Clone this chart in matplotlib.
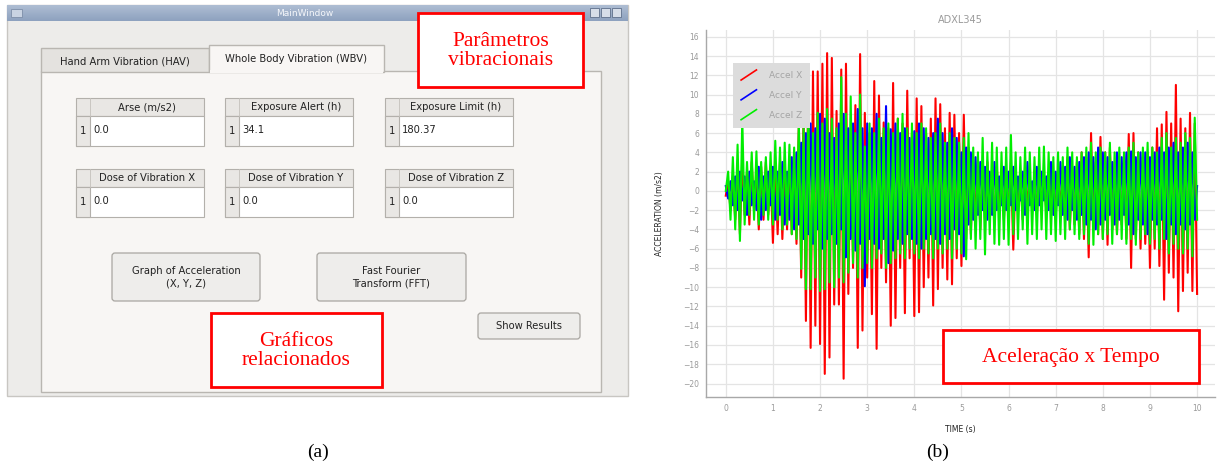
import numpy as np
import matplotlib
matplotlib.use("Agg")
import matplotlib.pyplot as plt
from matplotlib.patches import Rectangle, FancyBboxPatch
from matplotlib.lines import Line2D
from matplotlib.legend_handler import HandlerBase

########################################################################################################################
# Data.
########################################################################################################################

# ADXL345 samples, one every 0.05 s from 0 to 10 s
accel_x = [
    -0.5, 1.0, -2.0, 1.5, -3.0, 2.5, -4.5, 3.5, -2.5, 2.0, -3.5, 3.0, -2.0, 1.5, -4.0, 2.5, -3.0, 3.0, -2.5, 2.0,
    -5.4, 2.5, -4.5, 3.0, -5.0, 2.0, -4.0, 3.5, -4.5, 4.0, -5.5, 7.0, -9.0, 8.0, -13.5, 11.9, -16.3, 12.4, -14.0, 12.4,
    -15.9, 13.2, -19.0, 14.3, -17.3, 13.8, -11.8, 8.3, -11.8, 12.6, -19.5, 13.2, -10.7, 6.5, -8.0, 8.9, -16.3, 14.2, -14.5, 8.1,
    -9.0, 6.0, -12.8, 11.4, -16.4, 9.9, -8.0, 7.1, -9.5, 6.5, -14.0, 11.2, -13.2, 7.5, -8.0, 7.0, -12.7, 10.4, -7.0, 6.0,
    -13.0, 9.6, -12.6, 8.8, -10.0, 6.0, -9.0, 7.5, -11.9, 9.6, -10.2, 9.0, -8.0, 6.5, -9.2, 8.1, -9.7, 7.9, -7.0, 6.0,
    -7.8, 7.9, -5.0, 4.5, -4.5, 3.5, -3.5, 3.0, -4.0, 2.5, -3.0, 3.0, -2.5, 2.0, -3.5, 2.5, -2.0, 2.0, -3.0, 1.5,
    -2.5, 3.0, -6.1, 2.0, -2.0, 1.5, -3.0, 2.5, -1.5, 1.0, -2.0, 1.5, -2.5, 2.0, -1.5, 1.0, -2.0, 1.5, -1.0, 2.0,
    -2.5, 1.5, -2.0, 2.5, -3.0, 3.5, -4.0, 2.5, -3.5, 3.0, -4.5, 4.0, -5.0, 3.5, -6.9, 6.0, -4.0, 3.0, -4.5, 5.6,
    -5.0, 4.0, -5.6, 4.5, -4.0, 3.0, -4.5, 2.5, -3.5, 3.0, -5.0, 5.9, -8.0, 6.0, -5.0, 4.0, -6.0, 3.5, -5.5, 4.0,
    -8.0, 4.5, -6.0, 6.5, -7.8, 6.9, -11.3, 8.2, -8.5, 7.0, -9.0, 11.0, -12.5, 7.5, -10.4, 6.5, -8.5, 8.1, -10.4, 7.0,
    -10.7,
]
accel_y = [
    0.5, -0.8, 1.0, -1.5, 1.5, -2.0, 2.0, -1.0, 1.5, -2.5, 2.0, -1.5, 1.0, -2.0, 2.5, -3.0, 1.5, -2.0, 2.0, -1.5,
    2.5, -3.0, 2.0, -2.5, 3.0, -3.5, 2.0, -3.0, 3.5, -4.0, 4.0, -3.5, 5.0, -5.0, 6.0, -4.5, 7.0, -5.5, 6.5, -4.0,
    8.0, -6.0, 7.5, -5.0, 6.0, -4.5, 5.5, -5.5, 7.0, -4.0, 8.0, -6.9, 6.5, -5.0, 7.0, -6.2, 8.5, -5.5, 6.5, -9.9,
    7.0, -5.0, 6.5, -5.5, 8.0, -6.0, 5.5, -5.0, 8.8, -7.5, 6.4, -6.2, 7.0, -5.0, 6.0, -5.5, 6.5, -4.5, 5.5, -5.0,
    6.2, -5.5, 7.0, -6.0, 6.5, -5.0, 5.5, -4.5, 6.0, -5.0, 7.5, -5.5, 6.0, -4.5, 5.0, -5.0, 6.5, -4.0, 5.5, -4.5,
    4.0, -6.8, 4.5, -3.5, 4.0, -3.0, 3.5, -2.5, 3.0, -2.0, 2.5, -3.0, 2.0, -2.5, 3.0, -2.0, 1.5, -1.5, 2.5, -2.0,
    2.0, -1.5, 2.5, -2.0, 1.5, -1.0, 2.0, -2.5, 3.0, -1.5, 1.0, -2.0, 2.5, -1.5, 2.0, -1.0, 1.5, -2.0, 3.0, -2.5,
    2.0, -1.5, 3.0, -2.5, 2.5, -3.0, 3.5, -2.0, 2.5, -3.0, 3.0, -2.5, 3.5, -3.5, 4.0, -3.0, 3.5, -4.0, 4.5, -3.5,
    4.0, -3.0, 3.5, -2.5, 3.0, -3.5, 4.0, -3.0, 3.5, -2.5, 4.0, -3.5, 4.1, -4.5, 3.5, -3.0, 4.0, -3.5, 4.0, -4.5,
    3.5, -3.0, 4.0, -3.5, 4.5, -3.0, 4.0, -5.0, 4.5, -3.5, 5.0, -4.5, 4.0, -3.5, 4.5, -4.0, 5.0, -3.5, 4.0, -3.0,
    0.5,
]
accel_z = [
    0.0, 2.0, -3.0, 3.5, -4.0, 4.8, -5.2, 7.5, -3.5, 3.0, -2.5, 4.0, -3.0, 4.1, -3.5, 3.0, -2.5, 3.5, -3.0, 4.0,
    -3.5, 5.2, -3.0, 4.5, -4.0, 5.0, -3.5, 4.8, -4.5, 4.5, -5.0, 7.2, -8.1, 6.5, -10.2, 9.5, -10.2, 6.0, -9.0, 8.1,
    -10.4, 7.0, -10.2, 8.5, -9.5, 7.5, -10.0, 6.5, -9.0, 11.8, -9.5, 8.0, -8.5, 9.8, -7.5, 6.0, -9.0, 10.0, -8.0, 4.6,
    -7.5, 7.0, -8.0, 6.0, -7.0, 7.5, -6.5, 6.5, -8.0, 7.0, -7.5, 6.0, -7.0, 7.5, -6.5, 8.0, -7.0, 6.5, -6.0, 7.0,
    -6.5, 6.0, -7.0, 7.0, -6.0, 6.5, -6.5, 5.5, -7.0, 6.0, -6.0, 7.0, -6.5, 5.0, -6.0, 6.0, -7.0, 5.5, -6.0, 5.0,
    -6.5, 5.5, -7.1, 6.0, -5.0, 4.5, -6.0, 4.0, -5.0, 5.5, -6.6, 4.0, -4.5, 5.0, -5.5, 4.5, -5.6, 4.0, -5.0, 4.5,
    -5.6, 5.8, -4.5, 4.0, -5.0, 3.5, -4.0, 4.5, -5.5, 4.0, -4.5, 3.5, -5.0, 4.5, -4.0, 4.6, -5.0, 4.0, -4.5, 3.5,
    -5.2, 4.0, -4.5, 3.5, -5.0, 4.5, -4.0, 4.0, -4.5, 3.5, -5.0, 4.0, -4.5, 4.5, -5.5, 5.0, -5.6, 4.0, -4.5, 4.5,
    -5.0, 4.0, -4.5, 5.0, -5.5, 4.0, -4.5, 4.5, -5.0, 4.0, -5.5, 4.5, -5.0, 5.0, -5.6, 4.0, -5.0, 4.5, -4.5, 5.0,
    -5.5, 4.5, -5.0, 4.0, -6.0, 5.5, -5.0, 6.0, -6.5, 4.5, -5.5, 5.5, -6.0, 5.0, -6.5, 6.0, -6.0, 5.5, -6.8, 7.6,
    -3.0,
]
series_labels = ["Accel X", "Accel Y", "Accel Z"]
series_colors = ["#ff0000", "#0000ff", "#00ee00"]
x_ticks = list(range(0, 11))
y_ticks = list(range(-20, 17, 2))

# GUI panel texts
tab_labels = ["Hand Arm Vibration (HAV)", "Whole Body Vibration (WBV)"]
field_names = ["Arse (m/s2)", "Exposure Alert (h)", "Exposure Limit (h)",
               "Dose of Vibration X", "Dose of Vibration Y", "Dose of Vibration Z"]
field_values = ["0.0", "34.1", "180.37", "0.0", "0.0", "0.0"]
button_labels = ["Graph of Acceleration\n(X, Y, Z)", "Fast Fourier\nTransform (FFT)", "Show Results"]

t = np.linspace(0, 10, len(accel_x))

########################################################################################################################
# Figure and overlay (pixel coordinates).
########################################################################################################################

fig = plt.figure(figsize=(12.17, 4.65), dpi=100)
fig.patch.set_facecolor("white")

ov = fig.add_axes([0, 0, 1, 1], zorder=3)
ov.set_xlim(0, 1217)
ov.set_ylim(465, 0)
ov.axis("off")

gui_font = "DejaVu Sans"
serif = "Liberation Serif"


def box(x, y, w, h, fc, ec="none", lw=1.0, z=2):
    ov.add_patch(Rectangle((x, y), w, h, facecolor=fc, edgecolor=ec, lw=lw, zorder=z))


# window
box(7, 5, 621, 391, "#edecea", "#c8c6c2")
grad = np.linspace(0, 1, 16).reshape(-1, 1)
ov.imshow(grad, extent=(7, 628, 21, 5), cmap=matplotlib.colors.LinearSegmentedColormap.from_list(
    "tb", ["#aebdd3", "#8ea2bf"]), aspect="auto", zorder=2.5)
ov.set_xlim(0, 1217)
ov.set_ylim(465, 0)
ov.text(305, 13, "MainWindow", ha="center", va="center", fontsize=6.5, color="#f4f6fa",
        family=gui_font, zorder=3)
box(11, 9, 11, 8, "#c9d3e2", "#7d8ea8", lw=0.6, z=3)
for ix in (590, 601, 612):
    box(ix, 8, 9, 9, "#d6dde8", "#5e6f8a", lw=0.6, z=3)

# tab pane and tabs
box(41, 71, 560, 321, "#f8f6f4", "#b9b6b1")
box(41, 48, 168, 24, "#e4e2df", "#b9b6b1")
box(209, 45, 175, 27, "#f8f6f4", "#b9b6b1")
box(210, 70, 173, 3, "#f8f6f4", z=2.2)
ov.text(125, 61, tab_labels[0], ha="center", va="center", fontsize=7.2, family=gui_font, color="#222", zorder=3)
ov.text(296, 59, tab_labels[1], ha="center", va="center", fontsize=7.2, family=gui_font, color="#222", zorder=3)

# table widgets
col_x = [76, 225, 385]
row_y = [98, 169]
for k, (name, val) in enumerate(zip(field_names, field_values)):
    cx = col_x[k % 3]
    ry = row_y[k // 3]
    box(cx, ry, 128, 18, "#e9e7e4", "#b3b0ab", lw=0.8)
    box(cx, ry + 18, 128, 30, "white", "#b3b0ab", lw=0.8)
    box(cx, ry + 18, 14, 30, "#e9e7e4", "#b3b0ab", lw=0.8)
    ov.plot([cx + 14, cx + 14], [ry, ry + 18], color="#c4c1bc", lw=0.6, zorder=3)
    ov.text(cx + 71, ry + 9, name, ha="center", va="center", fontsize=7.2, family=gui_font, color="#222", zorder=3)
    ov.text(cx + 4, ry + 33, "1", ha="left", va="center", fontsize=7.2, family=gui_font, color="#222", zorder=3)
    ov.text(cx + 17, ry + 32, val, ha="left", va="center", fontsize=7.2, family=gui_font, color="#222", zorder=3)

# buttons
btn_geom = [(112, 253, 148, 48), (317, 253, 149, 48), (478, 313, 102, 26)]
for (bx, by, bw, bh), lab in zip(btn_geom, button_labels):
    ov.add_patch(FancyBboxPatch((bx, by), bw, bh, boxstyle="round,pad=0,rounding_size=3",
                                facecolor="#eeedeb", edgecolor="#a9a6a1", lw=0.9, zorder=2))
    ov.text(bx + bw / 2, by + bh / 2, lab, ha="center", va="center", fontsize=7.2, family=gui_font,
            color="#222", linespacing=1.35, zorder=3)

# red annotation boxes
notes = [((418, 13, 165, 74), "Parâmetros\nvibracionais"),
         ((211, 313, 171, 74), "Gráficos\nrelacionados"),
         ((943, 330, 256, 53), "Aceleração x Tempo")]
for (nx, ny, nw, nh), txt in notes:
    box(nx, ny, nw, nh, "white", "#ff0000", lw=2.0, z=4)
    ov.text(nx + nw / 2, ny + nh / 2 + 1, txt, ha="center", va="center", fontsize=15.5, family=serif,
            color="#ff0000", linespacing=1.05, zorder=5)

ov.text(318, 452, "(a)", ha="center", va="center", fontsize=14, family=serif, color="black")
ov.text(938, 452, "(b)", ha="center", va="center", fontsize=14, family=serif, color="black")

########################################################################################################################
# Acceleration chart.
########################################################################################################################

ax = fig.add_axes([706 / 1217, (465 - 397) / 465, 509 / 1217, 367 / 465], zorder=1)
lines = []
for vals, lab, col in zip([accel_x, accel_y, accel_z], series_labels, series_colors):
    ln, = ax.plot(t, vals, color=col, lw=1.5, label=lab)
    lines.append(ln)

ax.set_xlim(-0.42, 10.38)
ax.set_ylim(-21.4, 16.7)
ax.set_xticks(x_ticks)
ax.set_yticks(y_ticks)
ax.grid(True, color="#e4e4e4", lw=0.9)
ax.set_axisbelow(True)
for s in ("top", "right"):
    ax.spines[s].set_visible(False)
for s in ("left", "bottom"):
    ax.spines[s].set_color("#a8a8a8")
    ax.spines[s].set_linewidth(1.0)
ax.tick_params(length=0, labelsize=5.5, labelcolor="#9a9a9a", pad=5)

ax.set_title("ADXL345", fontsize=7, color="#9a9a9a", pad=5)
ax.set_ylabel("ACCELERATION (m/s2)", fontsize=5.5, color="#222")
ax.yaxis.set_label_coords(-0.083, 0.5)
ax.set_xlabel("TIME (s)", fontsize=5.5, color="#222")
ax.xaxis.set_label_coords(0.5, -0.076)


class DiagHandler(HandlerBase):
    def create_artists(self, legend, orig_handle, xdescent, ydescent, width, height, fontsize, trans):
        ln = Line2D([-xdescent, width - xdescent], [-ydescent - 0.3 * height, 1.3 * height - ydescent],
                    color=orig_handle.get_color(), lw=1.2, transform=trans)
        return [ln]


leg = ax.legend(handles=lines, loc="upper left", bbox_to_anchor=(0.053, 0.91), borderaxespad=0,
                fontsize=6.5, labelcolor="#a4a4a4", facecolor="#dcdcdc", edgecolor="none", framealpha=1,
                fancybox=False, handlelength=1.7, handletextpad=1.4, labelspacing=1.2, borderpad=0.9,
                handler_map={Line2D: DiagHandler()})

fig.savefig("out.png", dpi=100)
